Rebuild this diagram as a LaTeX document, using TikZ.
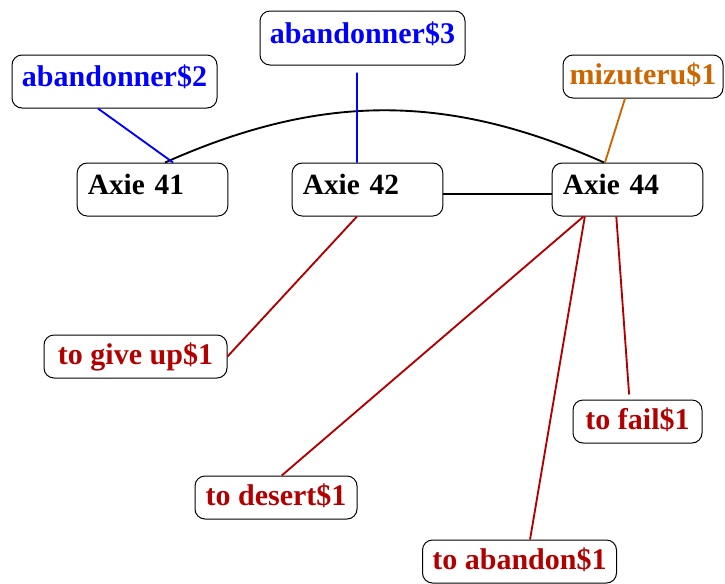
\documentclass[tikz,border=0pt]{standalone}
\usepackage{fontspec}
\setmainfont{Liberation Serif}
\usetikzlibrary{positioning, calc}
\definecolor{frColor}{HTML}{0000FF}
\definecolor{jaColor}{HTML}{CC6600}
\definecolor{enColor}{HTML}{B20000}
\tikzset{
    axie box/.style={
        rectangle,
        rounded corners=7.5pt,
        draw=black,
        line width=0.75pt,
        font=\bfseries\fontsize{22}{26}\selectfont,
        text width=97pt,
        align=left,
        inner xsep=8pt,
        minimum height=39.75pt,
        text height=15pt,
        text depth=8pt,
    },
    sense box/.style={
        rectangle,
        rounded corners=7.5pt,
        draw=black,
        line width=0.75pt,
        text=#1,
        font=\bfseries\fontsize{22.5}{26}\selectfont,
        inner xsep=4pt,
        minimum height=32.25pt,
        text height=15pt,
        text depth=3.5pt,
    },
    link/.style={
        line width=1.4pt,
        #1,
    },
}

\begin{document}
\begin{tikzpicture}[x=0.75pt, y=0.75pt]

\useasboundingbox (0,0) rectangle (725,-583);

% ── AXIES ──────────────────────────────────────────────────────────

\node[axie box] (a41) at (152.5,-189.5) {Axie 41};
\node[axie box] (a42) at (367.5,-189.5) {Axie 42};
\node[axie box] (a44) at (627.5,-189.5) {Axie 44};

% ── SENSES ─────────────────────────────────────────────────────────

\node[sense box=frColor, minimum width=153.75pt, minimum height=39.75pt, text depth=7pt] (aband2) at (114.5,-81.5) {abandonner\$2};
\node[sense box=frColor, minimum width=153.75pt, minimum height=40.5pt, text depth=7pt] (aband3) at (362.5,-38) {abandonner\$3};
\node[sense box=jaColor, minimum width=120pt] (mizu) at (643,-76.5) {mizuteru\$1};

\node[sense box=enColor, minimum width=137.25pt] (giveup) at (135.5,-356.5) {to give up\$1};
\node[sense box=enColor, minimum width=96.75pt] (fail) at (637.5,-421.5) {to fail\$1};
\node[sense box=enColor, minimum width=121.5pt] (desert) at (276,-497.5) {to desert\$1};
\node[sense box=enColor, minimum width=145.5pt] (abandon) at (519.5,-561.5) {to abandon\$1};

% ── LINKS ──────────────────────────────────────────────────────────

% Axie to Axie
\draw[link=black] ([xshift=9.4pt]a41.north) to[bend left=24] ([xshift=-17.6pt]a44.north);
\draw[link=black] ([yshift=-3.6pt]a42.east) -- ([yshift=-3.6pt]a44.west);

% French
\draw[link=frColor] ([xshift=-12.4pt]aband2.south) -- ([xshift=15.4pt]a41.north);
\draw[link=frColor] ([xshift=-4.1pt, yshift=-5.3pt]aband3.south) -- ([xshift=-7.9pt]a42.north);

% Japanese
\draw[link=jaColor] ([xshift=-13.5pt]mizu.south) -- ([xshift=-16.9pt]a44.north);

% English
\draw[link=enColor] ([xshift=-7.9pt]a42.south) -- (giveup.east);
\draw[link=enColor] ([xshift=-33pt]a44.south) -- ([xshift=4.3pt]desert.north);
\draw[link=enColor] ([xshift=-32pt]a44.south) -- ([xshift=7.9pt]abandon.north);
\draw[link=enColor] ([xshift=-8.4pt]a44.south) -- ([xshift=-6.3pt, yshift=3.75pt]fail.north);

\end{tikzpicture}
\end{document}
